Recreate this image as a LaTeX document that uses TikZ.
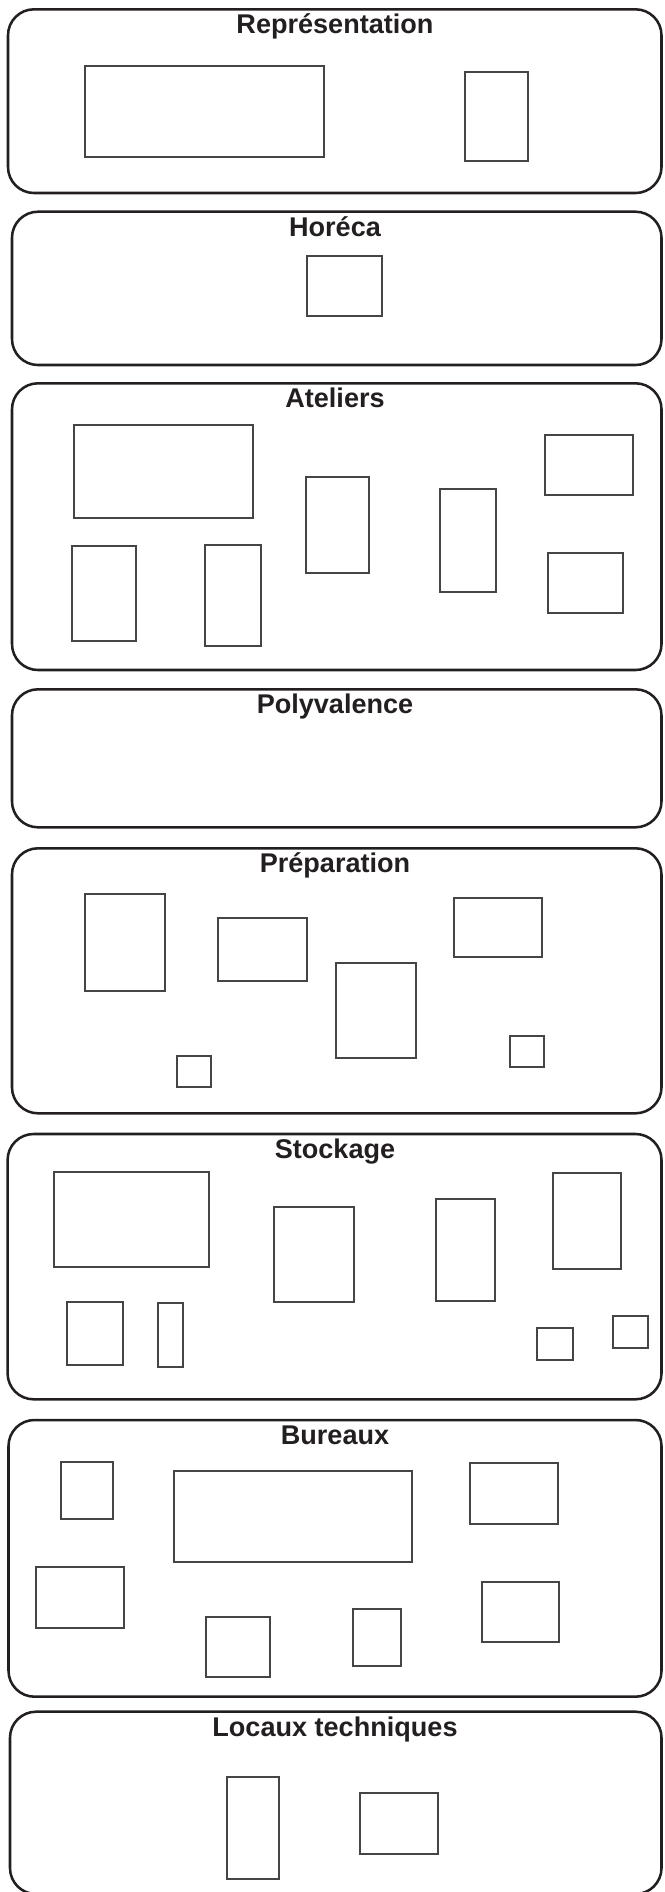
\documentclass[tikz,border=0pt]{standalone}
\usepackage{fontspec}
\setmainfont{Liberation Sans}
\definecolor{trait}{HTML}{231F20}
\definecolor{piece}{HTML}{454545}

\begin{document}
\begin{tikzpicture}[x=0.75pt, y=-0.75pt,
  zone/.style={draw=trait, line width=1.9pt, rounded corners=19.5pt},
  salle/.style={draw=piece, line width=1.5pt},
  titre/.style={anchor=base, text=trait, inner sep=0pt,
    font=\fontsize{20.3}{24}\selectfont\bfseries}]
  \clip (0,0) rectangle (664,1892);

  % zones
  \draw[zone] (8,9.3) rectangle (661.5,193);
  \draw[zone] (12,211.7) rectangle (661.5,365);
  \draw[zone] (12,383.3) rectangle (661.5,670);
  \draw[zone] (12,689.3) rectangle (661.5,827.3);
  \draw[zone] (12,848.3) rectangle (661.5,1113.3);
  \draw[zone] (7.6,1134) rectangle (661.5,1399.3);
  \draw[zone] (8.5,1420) rectangle (661.5,1696.7);
  \draw[zone] (10,1711.7) rectangle (661.5,1894);

  \node[titre] (repr) at (335,33.8) {Représentation};
  \node[titre] (horeca) at (335,236.2) {Horéca};
  \node[titre] (ateliers) at (335,407.8) {Ateliers};
  \node[titre] (poly) at (335,713.8) {Polyvalence};
  \node[titre] (prepa) at (335,872.8) {Préparation};
  \node[titre] (stock) at (335,1158.5) {Stockage};
  \node[titre] (bureaux) at (335,1444.5) {Bureaux};
  \node[titre] (locaux) at (335,1736.2) {Locaux techniques};

  % Représentation
  \draw[salle] (85,65.7) rectangle (324,156.7);
  \draw[salle] (465,71.7) rectangle (528,161);

  % Horéca
  \draw[salle] (306.8,256) rectangle (382.2,316);

  % Ateliers
  \draw[salle] (74,425) rectangle (253,518.3);
  \draw[salle] (306,477.3) rectangle (369,572.7);
  \draw[salle] (440,489.3) rectangle (496,591.7);
  \draw[salle] (545,435.3) rectangle (633,495);
  \draw[salle] (72,545.7) rectangle (136,641);
  \draw[salle] (205,544.7) rectangle (260.6,646);
  \draw[salle] (547.5,552.7) rectangle (623.3,613.3);

  % Préparation
  \draw[salle] (84.7,894.3) rectangle (165.3,990.7);
  \draw[salle] (217.8,918.3) rectangle (307.2,981);
  \draw[salle] (336,962.7) rectangle (415.7,1058.3);
  \draw[salle] (453.8,897.7) rectangle (541.5,956.7);
  \draw[salle] (177,1056) rectangle (210.6,1086.7);
  \draw[salle] (510,1036) rectangle (544,1066.7);

  % Stockage
  \draw[salle] (54.2,1172.3) rectangle (208.9,1266.7);
  \draw[salle] (274,1206.7) rectangle (353.8,1301.7);
  \draw[salle] (436,1199.3) rectangle (495,1301);
  \draw[salle] (553,1173.3) rectangle (620.8,1268.7);
  \draw[salle] (67,1302) rectangle (122.5,1365);
  \draw[salle] (158,1303.3) rectangle (183,1366.7);
  \draw[salle] (537,1327.7) rectangle (572.5,1360);
  \draw[salle] (613,1315.7) rectangle (648,1347.7);

  % Bureaux
  \draw[salle] (61.4,1462.3) rectangle (112.7,1519.3);
  \draw[salle] (173.7,1470.7) rectangle (412.3,1562);
  \draw[salle] (470,1463.3) rectangle (557.6,1524.3);
  \draw[salle] (35.6,1566.7) rectangle (124.2,1628.3);
  \draw[salle] (206.4,1617) rectangle (270,1677.3);
  \draw[salle] (353,1609) rectangle (400.8,1665.7);
  \draw[salle] (482,1581.7) rectangle (558.5,1642.3);

  % Locaux techniques
  \draw[salle] (226.7,1777.3) rectangle (279.3,1879);
  \draw[salle] (360,1793.3) rectangle (438.3,1854);
\end{tikzpicture}
\end{document}
